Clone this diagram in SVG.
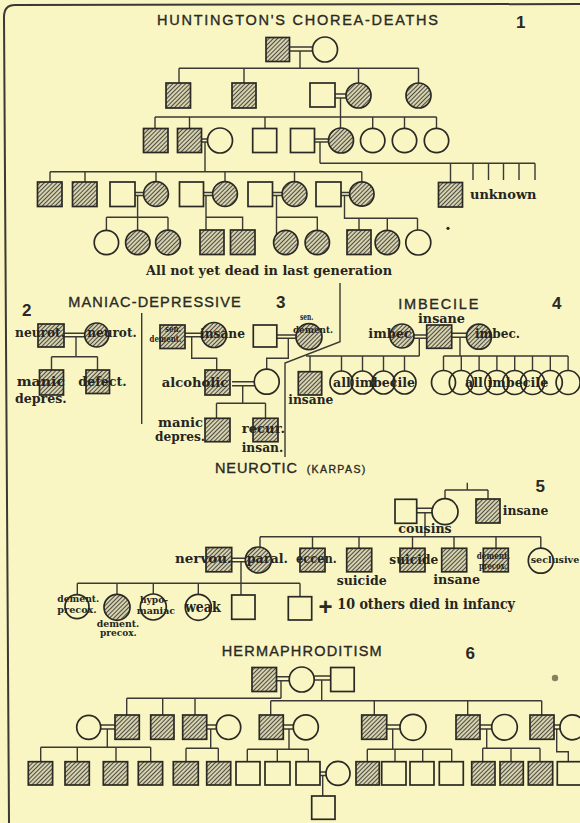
<svg xmlns="http://www.w3.org/2000/svg" width="580" height="823" viewBox="0 0 580 823">
<defs>
<pattern id="h" width="3" height="3" patternUnits="userSpaceOnUse" patternTransform="rotate(45)">
<rect width="3" height="3" fill="#d6d2ae"/>
<line x1="1.5" y1="0" x2="1.5" y2="3" stroke="#4d4b42" stroke-width="1.05"/>
</pattern>
</defs>
<style>
.ln{fill:none;stroke:#3a3933;stroke-width:1.4}
.e{fill:#f9f6c4;stroke:#2a2924;stroke-width:1.7}
.s{fill:url(#h);stroke:#2a2924;stroke-width:1.7}
.o{fill:none;stroke:#2a2924;stroke-width:1.7}
.lb{font-family:"DejaVu Serif","Liberation Serif",serif;font-weight:bold;font-size:13px;fill:#262520}
.sm{font-size:9px}
.tt{font-family:"Liberation Sans","DejaVu Sans",sans-serif;font-size:14.5px;fill:#2a2924;stroke:#2a2924;stroke-width:0.35}
.num{font-family:"Liberation Sans","DejaVu Sans",sans-serif;font-weight:bold;font-size:17px;fill:#2a2924}
</style>
<rect width="580" height="823" fill="#f9f6c4"/>
<path d="M4 17Q4 5 15 5L580 4M4 17L9 823" fill="none" stroke="#3a3933" stroke-width="2"/>

<g id="titles">
<text class="tt" x="157" y="25" textLength="281">HUNTINGTON'S CHOREA-DEATHS</text>
<text class="num" x="516" y="28">1</text>
<text class="tt" x="68.3" y="307.3" textLength="172.4">MANIAC-DEPRESSIVE</text>
<text class="num" x="22" y="316">2</text>
<text class="num" x="276" y="308.3">3</text>
<text class="tt" x="398.3" y="309" textLength="80">IMBECILE</text>
<text class="num" x="552" y="309">4</text>
<text class="tt" x="215" y="473"><tspan letter-spacing="0.9">NEUROTIC</tspan><tspan x="306.7" style="font-size:10.5px" letter-spacing="1.4">(KARPAS)</tspan></text>
<text class="num" x="535.5" y="491.7">5</text>
<text class="tt" x="221.7" y="656" textLength="160">HERMAPHRODITISM</text>
<text class="num" x="465.5" y="659.3">6</text>
</g>

<g id="connectors" class="ln">
<path d="M289.5 47H312.5M289.5 51H312.5M300 51V68.3M179 68.3H418.5M179 68.3V83M244 68.3V83M358.5 68.3V83M418.5 68.3V83"/>
<path d="M335 94H346M335 98H346M340.5 98V128M155 117H436.5M155 117V128.5M189.5 117V128.5M265 117V128.5M372.7 117V128.3M404.5 117V128.3M436.5 117V128.3"/>
<path d="M201.5 139H207.5M201.5 142H207.5M205 142V171.7M314.5 139H328.5M314.5 142H328.5M320 142V163.3"/>
<path d="M50 171.7H362M50 171.7V182M85 171.7V182M156 171.7V181.6M225 171.7V181.6M294.5 171.7V181.6M361.8 171.7V181.8"/>
<path d="M320 163.3H535M450.5 163.3V182.5M473 163.3V180M488.5 163.3V180M503.5 163.3V180M519 163.3V180M535 163.3V180"/>
<path d="M135 192.5H143.6M135 195.5H143.6M137.6 195.5V230.3M106.4 217.3H168M106.4 217.3V230.3M168 217.3V230.1"/>
<path d="M203.5 192.5H212.6M203.5 195.5H212.6M206 195.5V230M206 217.3H242.6V230"/>
<path d="M272.5 192.5H282.1M272.5 195.5H282.1M276.5 195.5V234.5M276.5 217.3H317.3V230.3"/>
<path d="M341 192.5H349.6M341 195.5H349.6M344.5 195.5V218.3H417.5M359 218.3V230M387.3 218.3V230.3M417.5 218.3V230"/>
<path d="M340 283V341.7L285 363V457M141.7 313V424"/>
<path d="M64 333.3H84.7M64 336.7H84.7M76 336.7V356.7M51.5 356.7H97.5M51.5 356.7V370M97.5 356.7V370"/>
<path d="M185 333.3H201.5M185 336.7H201.5M191.7 336.7V358.3H216.7V370M276.8 335H296M276.8 338.3H296M288.3 338.3V358.3H266.7V369.2"/>
<path d="M232 381.7H254.2M232 385.7H254.2M242.7 385.7V403.3M216.5 403.3H265.5M216.5 403.3V418.3M265.5 403.3V418.3"/>
<path d="M414 335H426.7M414 338.3H426.7M419.3 338.3V356M306 356H419.3M310 356V371.7M341.5 356V371M362.5 356V371M383.5 356V371M404.5 356V371"/>
<path d="M451.7 333.3H466.5M451.7 337.3H466.5M460 337.3V356M443.5 356H568.1M443.5 356V370.5M461.3 356V370.5M479.1 356V370.5M496.9 356V370.5M514.7 356V370.5M532.5 356V370.5M550.3 356V370.5M568.1 356V370.5"/>
<path d="M467.3 482.7V490M445 490H488M445 490V498.7M488 490V499M416.7 508.3H432M416.7 512.7H432M425 512.7V536.7"/>
<path d="M260 536.7H540.8M260 536.7V547M312.5 536.7V548.3M359 536.7V548.3M412.5 536.7V548.3M454 536.7V548.3M496 536.7V548.3M540.8 536.7V548.2"/>
<path d="M231.7 558.3H245.3M231.7 561.7H245.3M241 561.7V595M77.3 583.3H300M77.3 583.3V594.7M117 583.3V594.3M153.3 583.3V594M198.3 583.3V594.3M300 583.3V596.7"/>
<path d="M276.5 676.7H289.2M276.5 680.7H289.2M281 680.7V698.3M126.7 698.3H281M126.7 698.3V715M162.7 698.3V715M195 698.3V715"/>
<path d="M314.2 676H330.7M314.2 680H330.7M321.7 680V700.7M270.7 700.7H541.7M270.7 700.7V715M374.3 700.7V715M467.7 700.7V715M541.7 700.7V715"/>
<path d="M100.7 725H115M100.7 729H115M206.7 725H216.3M206.7 729H216.3M283.3 725H293.3M283.3 729H293.3M386.7 725H400M386.7 729H400M480 725H491.7M480 729H491.7M554 725H560M554 729H560"/>
<path d="M107.3 729V747.3M40.7 747.3H150.7M40.7 747.3V761.7M77.3 747.3V761.7M116 747.3V761.7M150.7 747.3V761.7"/>
<path d="M210.7 729V748.3M186 748.3H218.3M186 748.3V761.7M218.3 748.3V761.7"/>
<path d="M289 729V749.3M247.3 749.3H308.3M247.3 749.3V761.7M277.3 749.3V761.7M308.3 749.3V761.7"/>
<path d="M392.7 729V749.3M367.3 749.3H451.7M367.3 749.3V761.7M395 749.3V761.7M422.7 749.3V761.7M451.7 749.3V761.7"/>
<path d="M486.7 729V748.3M482.7 748.3H540M482.7 748.3V761.7M511 748.3V761.7M540 748.3V761.7M556.7 729V751.7H568.3V761.7"/>
<path d="M320 772H326M320 775.5H326M322.7 775.5V796"/>
</g>

<g id="hc1-g1">
<rect class="s" x="266" y="37.5" width="23.5" height="24"/>
<circle class="e" cx="325" cy="49.5" r="12.5"/>
</g>
<g id="hc1-g2">
<rect class="s" x="166" y="83" width="24.5" height="25"/>
<rect class="s" x="232" y="83" width="24" height="25"/>
<rect class="e" x="310" y="83" width="25" height="24"/>
<circle class="s" cx="358.5" cy="95.5" r="12.5"/>
<circle class="s" cx="418.5" cy="95.5" r="12.5"/>
</g>
<g id="hc1-g3">
<rect class="s" x="143.5" y="128.5" width="24.5" height="24"/>
<rect class="s" x="177.5" y="128.5" width="24" height="24"/>
<circle class="e" cx="220" cy="140.5" r="12.5"/>
<rect class="e" x="252.7" y="128.5" width="24" height="24"/>
<rect class="e" x="290.5" y="128.5" width="24" height="24"/>
<circle class="s" cx="341" cy="140.5" r="12.5"/>
<circle class="e" cx="372.7" cy="140.5" r="12.2"/>
<circle class="e" cx="404.5" cy="140.5" r="12.2"/>
<circle class="e" cx="436.5" cy="140.5" r="12.2"/>
</g>
<g id="hc1-g4">
<rect class="s" x="37.5" y="182" width="24.5" height="24.5"/>
<rect class="s" x="72.5" y="182" width="24.5" height="24.5"/>
<rect class="e" x="110" y="182" width="25" height="24.5"/>
<circle class="s" cx="156" cy="194" r="12.4"/>
<rect class="e" x="179.5" y="182" width="24" height="24.5"/>
<circle class="s" cx="225" cy="194" r="12.4"/>
<rect class="e" x="248" y="182" width="24.5" height="24.5"/>
<circle class="s" cx="294.5" cy="194" r="12.4"/>
<rect class="e" x="316" y="182" width="25" height="24.5"/>
<circle class="s" cx="361.8" cy="194" r="12.2"/>
</g>
<g id="hc1-unknown">
<rect class="s" x="438.5" y="182.5" width="24" height="24.5"/>
<text class="lb" x="470" y="199.3" textLength="66.5" lengthAdjust="spacingAndGlyphs">unknown</text>
</g>
<g id="hc1-g5">
<circle class="e" cx="106.4" cy="242.5" r="12.2"/>
<circle class="s" cx="137.8" cy="242.5" r="12.2"/>
<circle class="s" cx="168" cy="242.5" r="12.4"/>
<rect class="s" x="200" y="230" width="24" height="24.5"/>
<rect class="s" x="230.5" y="230" width="24.5" height="24.5"/>
<circle class="s" cx="285.8" cy="242.5" r="12.2"/>
<circle class="s" cx="317.3" cy="242.5" r="12.2"/>
<rect class="s" x="347" y="230" width="24" height="24.5"/>
<circle class="s" cx="387.3" cy="242.5" r="12.2"/>
<circle class="e" cx="418.3" cy="242.5" r="12.5"/>
<circle cx="448" cy="228.3" r="1.6" fill="#2a2924"/>
<text class="lb" x="146" y="275" textLength="246" lengthAdjust="spacingAndGlyphs">All not yet dead in last generation</text>
</g>

<g id="md-parents">
<rect class="s" x="38" y="324" width="26" height="23"/>
<text class="lb" x="15" y="337.3" textLength="50" lengthAdjust="spacingAndGlyphs">neurot.</text>
<circle class="s" cx="96.7" cy="335" r="12"/>
<text class="lb" x="87.3" y="337.3" textLength="49.4" lengthAdjust="spacingAndGlyphs">neurot.</text>
</g>
<g id="md-child1">
<rect class="s" x="39.5" y="370" width="24" height="25"/>
<text class="lb" x="16.7" y="386" textLength="48.3" lengthAdjust="spacingAndGlyphs">manic</text>
<text class="lb" x="15" y="402.7" textLength="51.7" lengthAdjust="spacingAndGlyphs">depres.</text>
</g>
<g id="md-child2">
<rect class="s" x="86" y="370" width="23.5" height="23.5"/>
<text class="lb" x="78.3" y="386" textLength="48.4" lengthAdjust="spacingAndGlyphs">defect.</text>
</g>

<g id="s3-gp1">
<rect class="s" x="160" y="325" width="25" height="23.5"/>
<text class="lb sm" x="165" y="331.5" textLength="16" lengthAdjust="spacingAndGlyphs">sen.</text>
<text class="lb sm" x="149.5" y="342" textLength="32" lengthAdjust="spacingAndGlyphs">dement.</text>
<circle class="s" cx="214" cy="335" r="12.5"/>
<text class="lb" x="200" y="338.3" textLength="45" lengthAdjust="spacingAndGlyphs">insane</text>
</g>
<g id="s3-gp2">
<rect class="e" x="253.3" y="325" width="23.5" height="22"/>
<circle class="s" cx="309" cy="336.7" r="13"/>
<text class="lb sm" x="300" y="320" textLength="13.3" lengthAdjust="spacingAndGlyphs">sen.</text>
<text class="lb sm" x="293" y="332.5" textLength="40" lengthAdjust="spacingAndGlyphs">dement.</text>
</g>
<g id="s3-parents">
<rect class="s" x="205" y="370" width="25" height="25"/>
<text class="lb" x="161.7" y="386.7" textLength="66.6" lengthAdjust="spacingAndGlyphs">alcoholic</text>
<circle class="e" cx="266.7" cy="381.7" r="12.5"/>
</g>
<g id="s3-child1">
<rect class="s" x="205" y="418.3" width="25" height="23.4"/>
<text class="lb" x="158" y="426.7" textLength="45" lengthAdjust="spacingAndGlyphs">manic</text>
<text class="lb" x="155" y="440.5" textLength="50" lengthAdjust="spacingAndGlyphs">depres.</text>
</g>
<g id="s3-child2">
<rect class="s" x="253" y="418.3" width="25" height="23.4"/>
<text class="lb" x="241.7" y="433" textLength="43.3" lengthAdjust="spacingAndGlyphs">recur.</text>
<text class="lb" x="241.7" y="452" textLength="41.6" lengthAdjust="spacingAndGlyphs">insan.</text>
</g>

<g id="imb-parents">
<circle class="s" cx="402" cy="336" r="12"/>
<text class="lb" x="368.3" y="338.3" textLength="43.4" lengthAdjust="spacingAndGlyphs">imbec</text>
<rect class="s" x="426.7" y="325" width="25" height="23.3"/>
<text class="lb" x="418" y="323.3" textLength="47" lengthAdjust="spacingAndGlyphs">insane</text>
<circle class="s" cx="479" cy="336.7" r="12.5"/>
<text class="lb" x="475" y="338.3" textLength="45" lengthAdjust="spacingAndGlyphs">imbec.</text>
</g>
<g id="imb-insane">
<rect class="s" x="298.3" y="371.7" width="23.4" height="23.3"/>
<text class="lb" x="288.3" y="404" textLength="45" lengthAdjust="spacingAndGlyphs">insane</text>
</g>
<g id="imb-children1">
<circle class="o" cx="341.5" cy="382.5" r="11.5"/>
<circle class="o" cx="362.5" cy="382.5" r="11.5"/>
<circle class="o" cx="383.5" cy="382.5" r="11.5"/>
<circle class="o" cx="404.5" cy="382.5" r="11.5"/>
<text class="lb" x="333" y="386.7" textLength="82" lengthAdjust="spacingAndGlyphs">all imbecile</text>
</g>
<g id="imb-children2">
<circle class="o" cx="443.5" cy="382.5" r="12"/>
<circle class="o" cx="461.3" cy="382.5" r="12"/>
<circle class="o" cx="479.1" cy="382.5" r="12"/>
<circle class="o" cx="496.9" cy="382.5" r="12"/>
<circle class="o" cx="514.7" cy="382.5" r="12"/>
<circle class="o" cx="532.5" cy="382.5" r="12"/>
<circle class="o" cx="550.3" cy="382.5" r="12"/>
<circle class="o" cx="568.1" cy="382.5" r="12"/>
<text class="lb" x="465" y="386.7" textLength="83.3" lengthAdjust="spacingAndGlyphs">all imbecile</text>
</g>

<g id="neu-gp">
<rect class="e" x="395" y="499.3" width="21.7" height="24"/>
<circle class="e" cx="445" cy="511.7" r="13"/>
<text class="lb" x="398.3" y="532.7" textLength="53.4" lengthAdjust="spacingAndGlyphs">cousins</text>
<rect class="s" x="476" y="499" width="24" height="24"/>
<text class="lb" x="502.7" y="515" textLength="45.6" lengthAdjust="spacingAndGlyphs">insane</text>
</g>
<g id="neu-g2">
<rect class="s" x="206" y="547.5" width="25.7" height="24.3"/>
<text class="lb" x="175" y="562.7" textLength="56.7" lengthAdjust="spacingAndGlyphs">nervou.</text>
<circle class="s" cx="258.3" cy="560" r="13"/>
<text class="lb" x="246.7" y="563" textLength="41.3" lengthAdjust="spacingAndGlyphs">paral.</text>
<rect class="s" x="300" y="548.3" width="25" height="23.5"/>
<text class="lb" x="296" y="563" textLength="40.7" lengthAdjust="spacingAndGlyphs">eccen.</text>
<rect class="s" x="346.7" y="548.3" width="25" height="23.5"/>
<text class="lb" x="336.7" y="585" textLength="50" lengthAdjust="spacingAndGlyphs">suicide</text>
<rect class="s" x="400" y="548.3" width="25" height="23.5"/>
<text class="lb" x="389.3" y="564" textLength="49" lengthAdjust="spacingAndGlyphs">suicide</text>
<rect class="s" x="441.7" y="548.3" width="25" height="23.5"/>
<text class="lb" x="433.3" y="584" textLength="46.7" lengthAdjust="spacingAndGlyphs">insane</text>
<rect class="s" x="483.3" y="548.3" width="25" height="23.5"/>
<text class="lb sm" x="476.7" y="559.3" textLength="33.3" lengthAdjust="spacingAndGlyphs">dement.</text>
<text class="lb sm" x="479" y="569.3" textLength="28" lengthAdjust="spacingAndGlyphs">precox.</text>
<circle class="e" cx="540.8" cy="560.7" r="12.5"/>
<text class="lb sm" x="530.7" y="563.3" textLength="48.6" lengthAdjust="spacingAndGlyphs">seclusive</text>
</g>
<g id="neu-g3">
<circle class="e" cx="77" cy="606.7" r="12"/>
<text class="lb sm" x="57.3" y="601.7" textLength="42" lengthAdjust="spacingAndGlyphs">dement.</text>
<text class="lb sm" x="57.3" y="612.7" textLength="39.4" lengthAdjust="spacingAndGlyphs">precox.</text>
<circle class="s" cx="117" cy="607.3" r="13"/>
<text class="lb sm" x="96.7" y="626.7" textLength="42.6" lengthAdjust="spacingAndGlyphs">dement.</text>
<text class="lb sm" x="100" y="636" textLength="36.7" lengthAdjust="spacingAndGlyphs">precox.</text>
<circle class="e" cx="153.3" cy="607" r="13"/>
<text class="lb sm" x="140" y="603.3" textLength="28" lengthAdjust="spacingAndGlyphs">hypo-</text>
<text class="lb sm" x="136.7" y="614" textLength="38.3" lengthAdjust="spacingAndGlyphs">maniac</text>
<circle class="e" cx="198.3" cy="607.3" r="13"/>
<text class="lb" x="185" y="611.7" style="font-size:15px" textLength="35.7" lengthAdjust="spacingAndGlyphs">weak</text>
<rect class="e" x="231.7" y="595" width="23.3" height="24.3"/>
<rect class="e" x="288.3" y="596.7" width="23.4" height="23.3"/>
<text class="num" x="318.5" y="615" style="font-size:24px">+</text>
<text class="lb" x="337.3" y="609.3" style="font-size:14px" textLength="177.7" lengthAdjust="spacingAndGlyphs">10 others died in infancy</text>
</g>

<g id="her-g1">
<rect class="s" x="252" y="667.5" width="24.5" height="24"/>
<circle class="e" cx="301.7" cy="679.5" r="12.5"/>
<rect class="e" x="330.7" y="667.5" width="23.5" height="24"/>
<circle cx="555" cy="678" r="3.2" fill="#6e6048" opacity="0.8"/>
</g>
<g id="her-g2">
<circle class="e" cx="88.7" cy="727.3" r="12"/>
<rect class="s" x="115" y="715" width="24.3" height="24.3"/>
<rect class="s" x="150.7" y="715" width="23.3" height="24.3"/>
<rect class="s" x="182.7" y="715" width="24" height="24.3"/>
<circle class="e" cx="228.5" cy="727.3" r="12.2"/>
<rect class="s" x="259.3" y="715" width="24" height="24.3"/>
<circle class="e" cx="305.8" cy="727.3" r="12.5"/>
<rect class="s" x="361.7" y="715" width="25" height="24.3"/>
<circle class="e" cx="413" cy="727.3" r="13"/>
<rect class="s" x="456" y="715" width="24" height="24.3"/>
<circle class="e" cx="504.5" cy="727.3" r="12.8"/>
<rect class="s" x="530" y="715" width="24" height="24.3"/>
<circle class="e" cx="572.5" cy="727.3" r="12.5"/>
</g>
<g id="her-g3">
<rect class="s" x="28.3" y="761.7" width="24.3" height="23.3"/>
<rect class="s" x="65" y="761.7" width="24.3" height="23.3"/>
<rect class="s" x="103.3" y="761.7" width="24.3" height="23.3"/>
<rect class="s" x="138.3" y="761.7" width="24.3" height="23.3"/>
<rect class="s" x="173.3" y="761.7" width="25" height="23.3"/>
<rect class="s" x="206.7" y="761.7" width="24" height="23.3"/>
<rect class="e" x="236" y="761.7" width="24" height="23.3"/>
<rect class="e" x="265" y="761.7" width="25" height="23.3"/>
<rect class="e" x="296" y="761.7" width="24" height="23.3"/>
<circle class="e" cx="338" cy="773.4" r="12"/>
<rect class="s" x="356" y="761.7" width="23.3" height="23.3"/>
<rect class="e" x="381.7" y="761.7" width="24.3" height="23.3"/>
<rect class="e" x="410" y="761.7" width="24" height="23.3"/>
<rect class="e" x="439.3" y="761.7" width="24" height="23.3"/>
<rect class="s" x="471.7" y="761.7" width="23.3" height="23.3"/>
<rect class="s" x="500" y="761.7" width="23.3" height="23.3"/>
<rect class="s" x="528.3" y="761.7" width="24.4" height="23.3"/>
<rect class="e" x="557.3" y="761.7" width="24" height="23.3"/>
</g>
<g id="her-g4">
<rect class="e" x="311.7" y="796" width="23.3" height="23.3"/>
</g>
</svg>
